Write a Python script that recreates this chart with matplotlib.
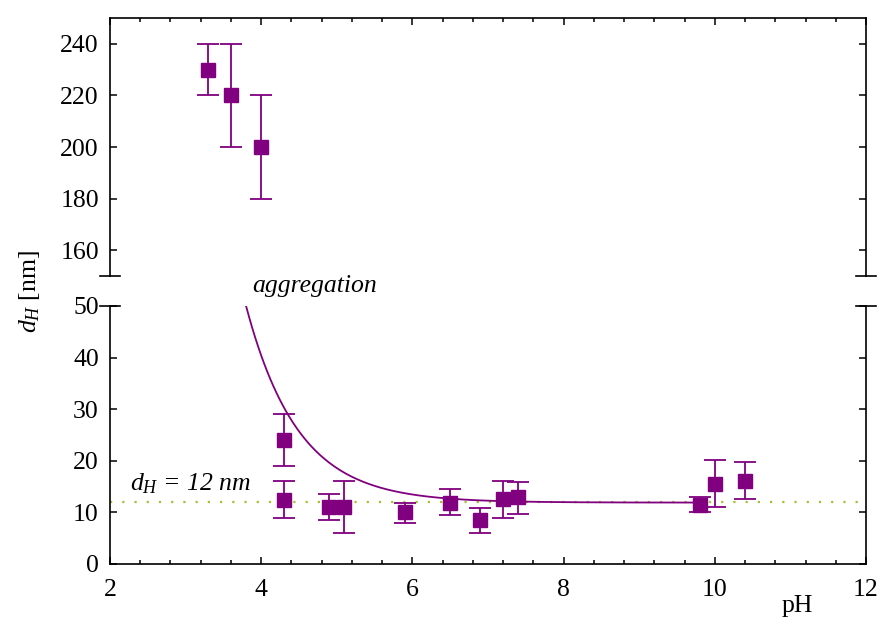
import numpy as np
import matplotlib
matplotlib.use("Agg")
import matplotlib.pyplot as plt
from matplotlib.ticker import MultipleLocator

plt.rcParams['font.family'] = ['Liberation Serif', 'DejaVu Serif']
plt.rcParams['mathtext.fontset'] = 'custom'
plt.rcParams['mathtext.rm'] = 'Liberation Serif'
plt.rcParams['mathtext.it'] = 'Liberation Serif:italic'

# large aggregates (upper panel)
ph_hi = [3.3, 3.6, 4.0]
d_hi = [230, 220, 200]
lo_hi = [220, 200, 180]
up_hi = [240, 240, 220]

# small particles (lower panel)
ph_lo = [4.3, 4.3, 4.9, 5.1, 5.9, 6.5, 6.9, 7.2, 7.4, 9.8, 10.0, 10.4]
d_lo = [24.0, 12.5, 11.0, 11.0, 10.0, 11.9, 8.5, 12.6, 12.9, 11.4, 15.6, 16.1]
lo_lo = [19.0, 9.0, 8.6, 6.0, 7.9, 9.5, 6.1, 9.0, 9.7, 10.0, 11.1, 12.6]
up_lo = [29.0, 16.0, 13.5, 16.1, 11.9, 14.5, 10.9, 16.0, 15.8, 13.0, 20.1, 19.7]

# aggregation guide curve: d = base + amp*exp(-rate*(pH - start))
fit_start, fit_end = 3.8, 9.8
fit_base, fit_amp, fit_rate = 11.9, 38.1, 1.45
d_ref = 12

purple = '#800080'
dotcol = '#a8c030'
fs = 18.5

fig = plt.figure(figsize=(8.82, 6.28), dpi=100)
L, W = 110/882, 756/882
H = 258/628
ax_t = fig.add_axes([L, 1 - 276/628, W, H])
ax_b = fig.add_axes([L, 1 - 564/628, W, H])

def errs(y, lo, up):
    y = np.array(y); return [y - np.array(lo), np.array(up) - y]

for ax in (ax_t, ax_b):
    ax.axhline(d_ref, color=dotcol, ls=(0, (1, 4.5)), lw=1.6, zorder=1)
    ax.set_xlim(2, 12)
    ax.xaxis.set_major_locator(MultipleLocator(2))
    ax.xaxis.set_minor_locator(MultipleLocator(0.4))
    ax.yaxis.set_minor_locator(plt.NullLocator())
    ax.tick_params(direction='in', which='major', length=5, width=1.1, labelsize=fs,
                   left=True, right=True, pad=8)
    ax.tick_params(direction='in', which='minor', length=3, width=1.1)
    for s in ax.spines.values():
        s.set_linewidth(1.2)

ax_t.errorbar(ph_hi, d_hi, yerr=errs(d_hi, lo_hi, up_hi), fmt='s', color=purple,
              ms=9.5, capsize=8, elinewidth=1.3, capthick=1.3, zorder=3)
ax_b.errorbar(ph_lo, d_lo, yerr=errs(d_lo, lo_lo, up_lo), fmt='s', color=purple,
              ms=9.5, capsize=8, elinewidth=1.3, capthick=1.3, zorder=3)

xf = np.linspace(fit_start, fit_end, 300)
ax_b.plot(xf, fit_base + fit_amp*np.exp(-fit_rate*(xf - fit_start)), color=purple, lw=1.3, zorder=2)

ax_t.set_ylim(150, 250)
ax_t.set_yticks([160, 180, 200, 220, 240])
ax_t.spines['bottom'].set_visible(False)
ax_t.tick_params(axis='x', which='both', bottom=False, top=True, labelbottom=False)

ax_b.set_ylim(0, 50)
ax_b.set_yticks([0, 10, 20, 30, 40, 50])
ax_b.spines['top'].set_visible(False)
ax_b.tick_params(axis='x', which='both', bottom=True, top=False, pad=11)

# break marks
d = 10/756
for ax, yy in ((ax_t, 0), (ax_b, 1)):
    for xx in (0, 1):
        ax.plot([xx - d, xx + d], [yy, yy], transform=ax.transAxes, color='k',
                lw=1.2, clip_on=False)

ax_b.text(3.88, 52.8, 'aggregation', fontsize=fs, style='italic', clip_on=False)
ax_b.text(2.27, 14.3, r'$d_H$ = 12 nm', fontsize=fs, style='italic')

fig.text(797/882, 1 - 606/628, 'pH', fontsize=fs, ha='center', va='center')
fig.text(30/882, 1 - 291/628, r'$d_H$ [nm]', fontsize=fs, rotation=90,
         ha='center', va='center')

fig.savefig('out.png', dpi=100)
